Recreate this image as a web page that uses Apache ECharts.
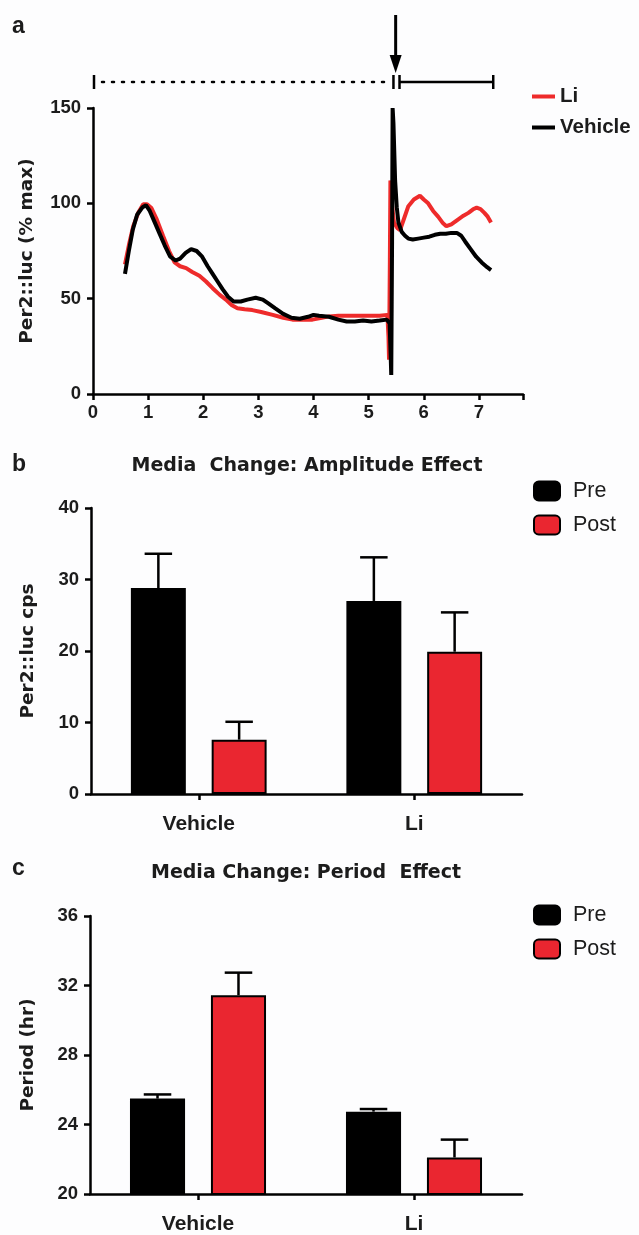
<!DOCTYPE html>
<html>
<head>
<meta charset="utf-8">
<script src="https://cdn.jsdelivr.net/npm/echarts@6/dist/echarts.min.js"></script>
<style>
html,body{margin:0;padding:0;background:#fdfdfe;}
#c{width:639px;height:1235px;}
</style>
</head>
<body>
<div id="c"></div>
<script>
// ---------- Panel a: Per2::luc traces (x = days, y = % max) ----------
const liTrace = [[0.58,68],[0.65,78],[0.73,88],[0.82,95],[0.91,99.5],[0.98,99.5],[1.06,97.5],[1.15,92],[1.27,83],[1.38,75],[1.48,69],[1.58,67],[1.69,66],[1.8,64],[1.93,62],[2.05,59],[2.17,55.5],[2.3,52],[2.41,49.5],[2.52,46.5],[2.62,45],[2.75,44.5],[2.89,44],[3.05,43],[3.26,41.5],[3.45,40],[3.62,39],[3.8,39],[3.98,39],[4.15,40],[4.28,40.7],[4.45,41],[4.6,41],[4.8,41],[5.0,41],[5.2,41],[5.34,41.5],[5.36,30],[5.37,18],[5.385,70],[5.395,112],[5.42,100],[5.46,90],[5.52,87],[5.57,86],[5.63,91],[5.72,98.5],[5.82,102],[5.93,104],[6.0,102],[6.08,100],[6.17,96],[6.26,93],[6.35,89.5],[6.41,88],[6.5,89],[6.62,91.5],[6.72,93.5],[6.81,95],[6.9,97],[6.96,97.7],[7.03,97],[7.1,95],[7.16,93],[7.22,90]];
const vehicleTrace = [[0.58,63],[0.65,75],[0.72,86],[0.8,94],[0.9,98],[0.96,99],[1.03,96],[1.12,90],[1.21,84],[1.3,78],[1.4,72],[1.5,70],[1.58,71],[1.68,74],[1.78,76],[1.88,75],[1.98,72],[2.08,67],[2.17,63],[2.26,59],[2.35,55],[2.45,51],[2.55,48.5],[2.68,48.5],[2.8,49.5],[2.95,50.5],[3.08,49.5],[3.18,47.5],[3.3,45],[3.45,42],[3.6,40],[3.75,39.5],[3.9,40.5],[4.0,41.5],[4.1,41],[4.28,40.5],[4.45,39],[4.6,38],[4.75,38],[4.9,38.5],[5.05,38],[5.2,38.5],[5.33,39],[5.38,37],[5.40,20],[5.41,10],[5.425,80],[5.435,150],[5.45,142],[5.48,112],[5.51,98],[5.54,90],[5.6,85],[5.66,83],[5.72,81.5],[5.8,81],[5.9,81.5],[6.0,82],[6.1,82.5],[6.2,83.5],[6.3,84],[6.4,84],[6.5,84.5],[6.6,84.5],[6.68,83],[6.75,80],[6.85,76],[6.95,72],[7.05,69],[7.15,66.5],[7.22,65]];
// annotation positions along x (days): dotted pre-phase, media change, solid post-phase
const preSpan = [0, 5.36];
const changeTicks = [5.45, 5.56];
const postSpan = [5.56, 7.26];
const arrowAt = 5.49;

// ---------- Panels b, c: bar groups ----------
const groups = ['Vehicle', 'Li'];
const ampPre = [28.8, 27.0];
const ampPreErr = [4.8, 6.1];
const ampPost = [7.6, 19.9];
const ampPostErr = [2.5, 5.5];
const perPre = [25.49, 24.74];
const perPreErr = [0.24, 0.15];
const perPost = [31.44, 22.1];
const perPostErr = [1.3, 1.03];

const RED = '#ea2630';
const INK = '#1c1c1c';
const BAR_FRAC = 0.255, BAR_GAP = 0.47;
const tickFont = {fontFamily:'Liberation Sans', fontWeight:'bold', fontSize:18.5, color:INK};
const nameFont = {fontFamily:'DejaVu Sans', fontWeight:'bold', fontSize:18.5, color:INK};

function errRender(sign){
  return function(params, api){
    const base = api.coord([api.value(0), api.value(1)]);
    const top = api.coord([api.value(0), api.value(2)]);
    const bw = api.size([1,0])[0];
    const w = bw*BAR_FRAC;
    const x = base[0] + sign*w*(1+BAR_GAP)/2;
    const cap = w/4;
    const st = {stroke:'#000', lineWidth:2.5};
    return {type:'group', children:[
      {type:'line', shape:{x1:x, y1:base[1], x2:x, y2:top[1]}, style:st},
      {type:'line', shape:{x1:x-cap, y1:top[1], x2:x+cap, y2:top[1]}, style:st}
    ]};
  };
}
function errData(mean, err){ return mean.map((m,i)=>[i, m, m+err[i]]); }

function valueY(idx, min, max, interval, name, gap){
  return {type:'value', gridIndex:idx, min:min, max:max, interval:interval,
    name:name, nameLocation:'middle', nameGap:gap, nameTextStyle:nameFont,
    axisLine:{show:true, lineStyle:{color:'#000', width:2.5}},
    axisTick:{show:true, length:6, lineStyle:{color:'#000', width:2.5}},
    axisLabel:Object.assign({margin:12}, tickFont),
    splitLine:{show:false}};
}
function catX(idx){
  return {type:'category', gridIndex:idx, data:groups,
    axisLine:{show:true, lineStyle:{color:'#000', width:2.5}},
    axisTick:{show:true, alignWithLabel:true, length:6, lineStyle:{color:'#000', width:2.5}},
    axisLabel:{margin:20, fontFamily:'Liberation Sans', fontWeight:'bold', fontSize:21, color:INK}};
}
function bars(name, color, idx, data){
  return {type:'bar', name:name, xAxisIndex:idx, yAxisIndex:idx, data:data,
    barWidth:(BAR_FRAC*100)+'%', barGap:(BAR_GAP*100)+'%',
    itemStyle:{color:color, borderColor:'#000', borderWidth:2}};
}
function errs(name, idx, mean, err, sign){
  return {type:'custom', name:name, xAxisIndex:idx, yAxisIndex:idx, z:5,
    renderItem:errRender(sign), data:errData(mean, err), encode:{x:0, y:[1,2]}};
}
function barLegend(top){
  return {left:528, top:top, orient:'vertical', itemWidth:26, itemHeight:19, itemGap:12,
    icon:'roundRect', data:['Pre','Post'],
    textStyle:{fontFamily:'Liberation Sans', fontSize:21.5, color:INK, padding:[0,0,0,8]}};
}

const chart = echarts.init(document.getElementById('c'), null, {renderer:'canvas'});
const option = {
  animation:false,
  backgroundColor:'#fdfdfe',
  grid:[
    {left:93, top:108, width:430, height:286},
    {left:91, top:508, width:431, height:286},
    {left:90, top:916, width:432, height:285}
  ],
  xAxis:[
    {type:'value', gridIndex:0, min:0, max:7.8, interval:1,
      axisLine:{show:true, lineStyle:{color:'#000', width:2.5}},
      axisTick:{show:true, length:6, lineStyle:{color:'#000', width:2.5}},
      axisLabel:Object.assign({margin:9, formatter:v => (Math.abs(v-Math.round(v))<1e-6 ? String(Math.round(v)) : '')}, tickFont),
      splitLine:{show:false}},
    catX(1), catX(2)
  ],
  yAxis:[
    valueY(0, 0, 150, 50, 'Per2::luc (% max)', 56),
    valueY(1, 0, 40, 10, 'Per2::luc cps', 53),
    valueY(2, 20, 36, 4, 'Period (hr)', 52)
  ],
  legend:[
    {left:527, top:81, orient:'vertical', itemWidth:23, itemHeight:4, itemGap:10,
      data:[{name:'Li', icon:'rect'}, {name:'Vehicle', icon:'rect'}],
      textStyle:{fontFamily:'Liberation Sans', fontWeight:'bold', fontSize:20.5, color:INK}},
    barLegend(475),
    barLegend(899)
  ],
  series:[
    {type:'line', name:'Li', xAxisIndex:0, yAxisIndex:0, data:liTrace, showSymbol:false, symbol:'none',
      lineStyle:{color:'#ee2b2b', width:4}, itemStyle:{color:'#ee2b2b'}},
    {type:'line', name:'Vehicle', xAxisIndex:0, yAxisIndex:0, data:vehicleTrace, showSymbol:false, symbol:'none',
      lineStyle:{color:'#000', width:4}, itemStyle:{color:'#000'}},
    bars('Pre', '#000', 1, ampPre),
    bars('Post', RED, 1, ampPost),
    errs('Pre SEM', 1, ampPre, ampPreErr, -1),
    errs('Post SEM', 1, ampPost, ampPostErr, 1),
    bars('Pre', '#000', 2, perPre),
    bars('Post', RED, 2, perPost),
    errs('Pre SEM', 2, perPre, perPreErr, -1),
    errs('Post SEM', 2, perPost, perPostErr, 1)
  ]
};
chart.setOption(option);

// ---------- annotations & titles ----------
const px = v => chart.convertToPixel({gridIndex:0}, [v, 0])[0];
const yTop = chart.convertToPixel({gridIndex:0}, [0, 150])[1];
const lineY = yTop - 26;
const st = {stroke:'#000', lineWidth:2.5};
const tickH = 7;
const ax = px(arrowAt);
const g = [
  {type:'line', shape:{x1:px(preSpan[0])+1, y1:lineY-tickH, x2:px(preSpan[0])+1, y2:lineY+tickH}, style:st},
  {type:'line', shape:{x1:px(preSpan[0])+9, y1:lineY, x2:px(preSpan[1]), y2:lineY}, style:{stroke:'#000', lineWidth:2.5, lineDash:[2,8], lineCap:'round'}},
  {type:'line', shape:{x1:px(changeTicks[0]), y1:lineY-tickH, x2:px(changeTicks[0]), y2:lineY+tickH}, style:st},
  {type:'line', shape:{x1:px(changeTicks[1]), y1:lineY-tickH, x2:px(changeTicks[1]), y2:lineY+tickH}, style:st},
  {type:'line', shape:{x1:px(postSpan[0]), y1:lineY, x2:px(postSpan[1]), y2:lineY}, style:st},
  {type:'line', shape:{x1:px(postSpan[1]), y1:lineY-tickH, x2:px(postSpan[1]), y2:lineY+tickH}, style:st},
  {type:'line', shape:{x1:ax, y1:15, x2:ax, y2:60}, style:{stroke:'#000', lineWidth:3}},
  {type:'polygon', shape:{points:[[ax-6,55],[ax+6,55],[ax,73]]}, style:{fill:'#000'}},
  {type:'text', x:12, y:27, style:{text:'a', fontFamily:'Liberation Sans', fontWeight:'bold', fontSize:23, fill:INK, verticalAlign:'middle'}},
  {type:'text', x:12, y:465, style:{text:'b', fontFamily:'Liberation Sans', fontWeight:'bold', fontSize:23, fill:INK, verticalAlign:'middle'}},
  {type:'text', x:12, y:869, style:{text:'c', fontFamily:'Liberation Sans', fontWeight:'bold', fontSize:23, fill:INK, verticalAlign:'middle'}},
  {type:'text', x:307, y:466, style:{text:'Media  Change: Amplitude Effect', fontFamily:'DejaVu Sans', fontWeight:'bold', fontSize:19, fill:INK, align:'center', verticalAlign:'middle'}},
  {type:'text', x:306, y:873, style:{text:'Media Change: Period  Effect', fontFamily:'DejaVu Sans', fontWeight:'bold', fontSize:19, fill:INK, align:'center', verticalAlign:'middle'}}
];
chart.setOption({graphic:{elements:g}});
</script>
</body>
</html>
